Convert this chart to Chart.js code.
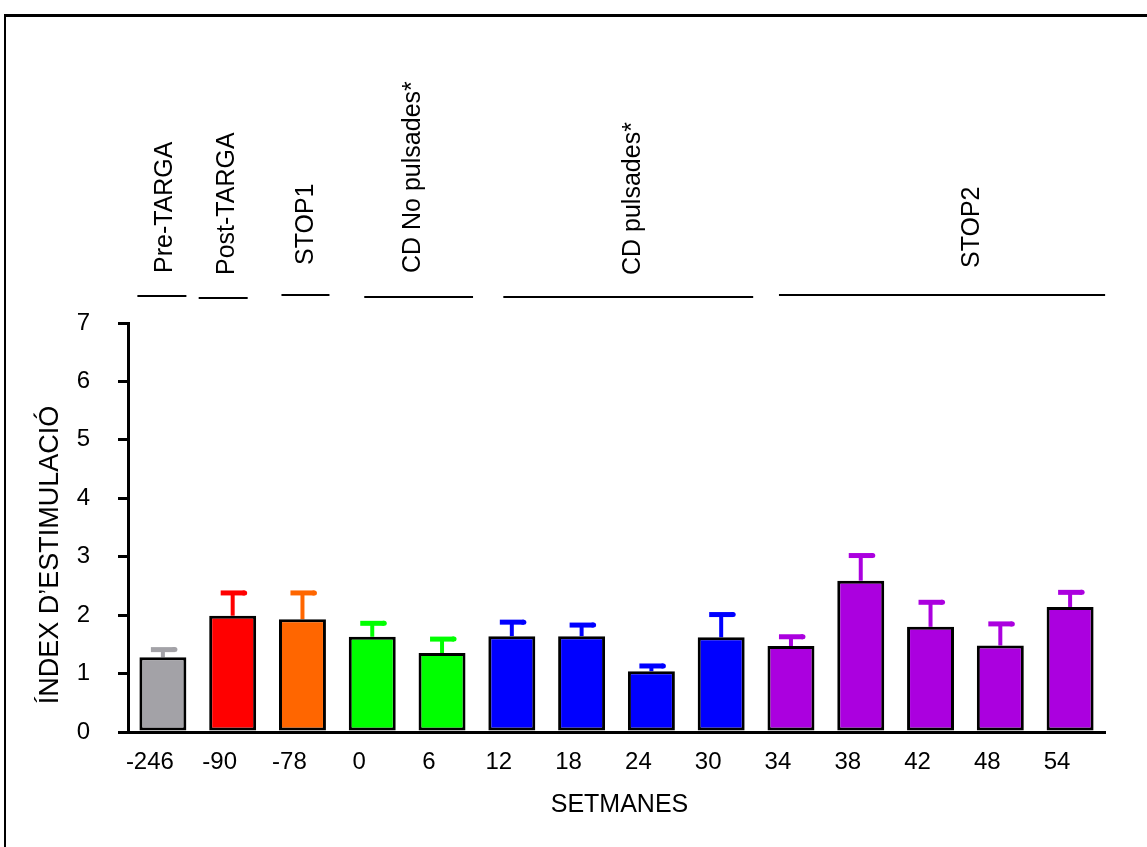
<!DOCTYPE html>
<html>
<head>
<meta charset="utf-8">
<script src="https://cdn.jsdelivr.net/npm/chart.js@4.4.1/dist/chart.umd.min.js"></script>
<style>
  html, body { margin: 0; padding: 0; background: #ffffff; }
  #wrap { position: relative; width: 1147px; height: 847px; overflow: hidden; background: #fff; }
  #frame { position: absolute; left: 4px; top: 14px; width: 1200px; height: 900px;
           border-top: 3px solid #000; border-left: 2px solid #000; pointer-events: none; }
  canvas { position: absolute; left: 0; top: 0; }
</style>
</head>
<body>
<div id="wrap">
  <canvas id="c" width="1147" height="847"></canvas>
  <div id="frame"></div>
</div>
<script>
// ---------- DATA ----------
const categories = ['-246', '-90', '-78', '0', '6', '12', '18', '24', '30', '34', '38', '42', '48', '54'];
const values     = [1.28, 1.99, 1.93, 1.63, 1.35, 1.64, 1.64, 1.04, 1.62, 1.47, 2.59, 1.80, 1.48, 2.14];
const errors     = [0.13, 0.39, 0.45, 0.23, 0.24, 0.24, 0.19, 0.09, 0.39, 0.16, 0.43, 0.42, 0.37, 0.25];
const groupNames = ['Pre-TARGA', 'Post-TARGA', 'STOP1', 'CD No pulsades*', 'CD pulsades*', 'STOP2'];
const groupFirst = [0, 1, 2, 3, 5, 9];
const groupLast  = [0, 1, 2, 4, 8, 13];
const yMin = 0, yMax = 7, yStep = 1;
const xTitle = 'SETMANES';
const yTitle = 'ÍNDEX D\u2019ESTIMULACIÓ';

// ---------- STYLE / LAYOUT ----------
const groupColors = ['#A3A2A7', '#FF0000', '#FF6600', '#00FF00', '#0000FF', '#AB00DF'];
const barColors = categories.map((_, i) => {
  for (let g = 0; g < groupFirst.length; g++) if (i >= groupFirst[g] && i <= groupLast[g]) return groupColors[g];
  return '#888';
});
// per group: [label baseline dx from group centre, label bottom y, line left dx, line right dx, line y]
const groupLayout = [
  [9.5, 273, -25.5, 23.5, 296],
  [1, 275, -34, 15, 298],
  [11, 265, -21, 27, 295],
  [13, 273, -8, 31, 297],
  [23, 275, -8.5, 32, 297],
  [48, 268, -12, 35, 295]
];
const FONT = "'Liberation Sans', Arial, Helvetica, sans-serif";

const errorBars = {
  id: 'errorBars',
  beforeDatasetsDraw(chart) {
    const ctx = chart.ctx;
    const meta = chart.getDatasetMeta(0);
    const ys = chart.scales.y;
    ctx.save();
    meta.data.forEach((bar, i) => {
      const top = ys.getPixelForValue(values[i] + errors[i]);
      ctx.strokeStyle = barColors[i];
      ctx.lineCap = 'butt';
      ctx.lineWidth = 4;
      ctx.beginPath();
      ctx.moveTo(bar.x, bar.y);
      ctx.lineTo(bar.x, top);
      ctx.stroke();
      ctx.lineWidth = 5;
      ctx.beginPath();
      ctx.moveTo(bar.x - 12, top);
      ctx.lineTo(bar.x + 12, top);
      ctx.stroke();
      ctx.lineCap = 'round';
      ctx.beginPath();
      ctx.moveTo(bar.x + 11, top);
      ctx.lineTo(bar.x + 12, top);
      ctx.stroke();
    });
    ctx.restore();
  }
};

const annotations = {
  id: 'annotations',
  afterDraw(chart) {
    const ctx = chart.ctx;
    const xs = chart.scales.x;
    const area = chart.chartArea;
    ctx.save();
    ctx.fillStyle = '#000';
    ctx.strokeStyle = '#000';
    groupNames.forEach((name, g) => {
      const cf = xs.getPixelForValue(groupFirst[g]);
      const cl = xs.getPixelForValue(groupLast[g]);
      const mid = (cf + cl) / 2;
      const L = groupLayout[g];
      ctx.save();
      ctx.translate(mid + L[0], L[1]);
      ctx.rotate(-Math.PI / 2);
      ctx.font = '25px ' + FONT;
      ctx.textAlign = 'left';
      ctx.textBaseline = 'alphabetic';
      ctx.fillText(name, 0, 0);
      ctx.restore();
      ctx.lineWidth = 2;
      ctx.beginPath();
      ctx.moveTo(cf + L[2], L[4]);
      ctx.lineTo(cl + L[3], L[4]);
      ctx.stroke();
    });
    ctx.save();
    ctx.translate(58, 555);
    ctx.rotate(-Math.PI / 2);
    ctx.font = '27px ' + FONT;
    ctx.textAlign = 'center';
    ctx.textBaseline = 'alphabetic';
    ctx.fillText(yTitle, 0, 0);
    ctx.restore();
    ctx.font = '25px ' + FONT;
    ctx.textAlign = 'center';
    ctx.textBaseline = 'alphabetic';
    ctx.fillText(xTitle, (area.left + area.right) / 2 + 3, 812);
    ctx.restore();
  }
};

new Chart(document.getElementById('c'), {
  type: 'bar',
  data: {
    labels: categories,
    datasets: [{
      data: values,
      backgroundColor: barColors,
      borderColor: '#000',
      borderWidth: 3,
      borderSkipped: false,
      categoryPercentage: 1,
      barPercentage: 0.673
    }]
  },
  options: {
    responsive: false,
    animation: false,
    devicePixelRatio: 1,
    layout: { padding: { left: 0, right: 42, top: 323, bottom: 0 } },
    plugins: { legend: { display: false }, tooltip: { enabled: false }, title: { display: false } },
    scales: {
      x: {
        grid: { display: false, drawTicks: false },
        border: { display: true, color: '#000', width: 3 },
        ticks: { color: '#000', font: { family: FONT, size: 24 }, padding: 16, labelOffset: -13, maxRotation: 0, autoSkip: false },
        afterFit(s) { s.height = 115; }
      },
      y: {
        min: yMin, max: yMax,
        grid: { display: true, drawOnChartArea: false, drawTicks: true, tickLength: 10, color: '#000', lineWidth: 3 },
        border: { display: true, color: '#000', width: 3 },
        ticks: { stepSize: yStep, color: '#000', font: { family: FONT, size: 24 }, padding: 28 },
        afterFit(s) { s.width = 128; }
      }
    }
  },
  plugins: [errorBars, annotations]
});
</script>
</body>
</html>
